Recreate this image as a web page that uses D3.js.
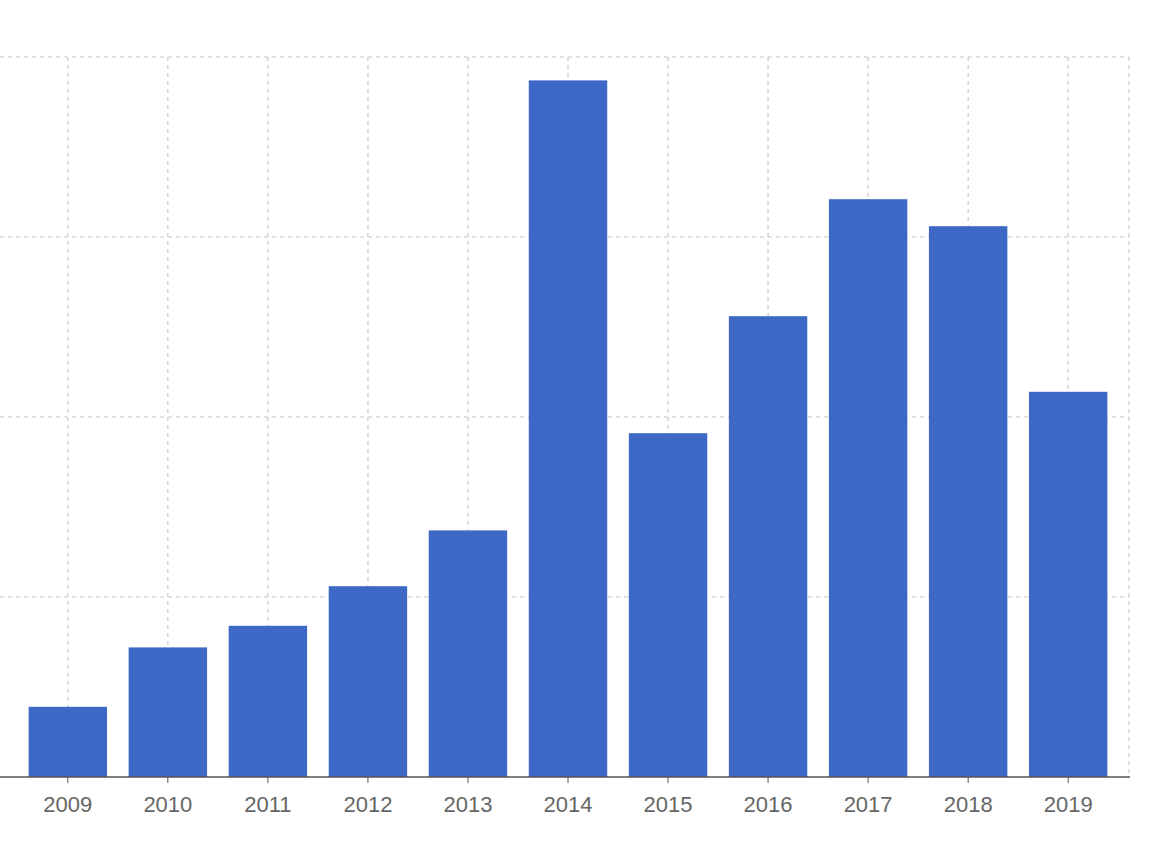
<!DOCTYPE html>
<html><head><meta charset="utf-8">
<script src="https://cdn.jsdelivr.net/npm/d3@7"></script>
<style>body{margin:0;background:#fff}svg{display:block}</style>
</head><body>
<script>
const years = ["2009","2010","2011","2012","2013","2014","2015","2016","2017","2018","2019"];
const values = [3.9, 7.2, 8.4, 10.6, 13.7, 38.7, 19.1, 25.6, 32.1, 30.6, 21.4];
const yTicks = [10, 20, 30, 40];

const W = 1162, H = 846;
const m = {left: 7, right: 33, top: 57, bottom: 69};
const svg = d3.select("body").append("svg").attr("width", W).attr("height", H);
const x = d3.scaleBand().domain(years).range([m.left, W - m.right]).padding(0.216);
const y = d3.scaleLinear().domain([0, 40]).range([H - m.bottom, m.top]);
const grid = svg.append("g").attr("stroke", "#c8c8c8").attr("stroke-dasharray", "4,4").attr("stroke-width", 1.2);
grid.selectAll("line.h").data(yTicks).join("line")
  .attr("x1", 0).attr("x2", W - m.right).attr("y1", d => y(d)).attr("y2", d => y(d));
grid.selectAll("line.v").data(years).join("line")
  .attr("x1", d => x(d) + x.bandwidth()/2).attr("x2", d => x(d) + x.bandwidth()/2)
  .attr("y1", y(40)).attr("y2", y(0));
grid.append("line").attr("x1", W - m.right).attr("x2", W - m.right).attr("y1", y(40)).attr("y2", y(0));

svg.append("g").selectAll("rect").data(years).join("rect")
  .attr("x", d => x(d)).attr("width", x.bandwidth())
  .attr("y", (d, i) => y(values[i])).attr("height", (d, i) => y(0) - y(values[i]))
  .attr("fill", "#3d68c6");

const ax = svg.append("g").attr("transform", `translate(0,${y(0)})`)
  .call(d3.axisBottom(x).tickSize(6).tickSizeOuter(0));
ax.select(".domain").remove();
ax.append("line").attr("x1", 0).attr("x2", W - m.right + 1).attr("stroke", "#555").attr("stroke-width", 1.5);
ax.selectAll(".tick line").attr("stroke", "#555");
ax.selectAll(".tick text").attr("fill", "#666").attr("font-size", 22)
  .attr("font-family", "Liberation Sans, Arial, sans-serif").attr("dy", "1.2em");
</script>
</body></html>
